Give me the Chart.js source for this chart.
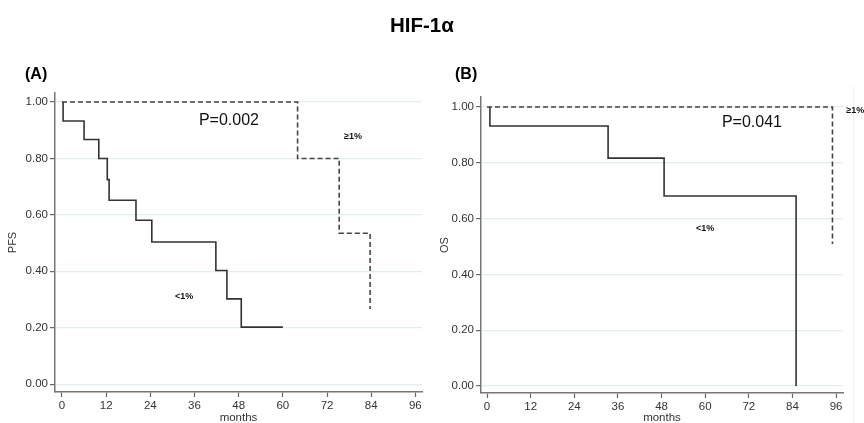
<!DOCTYPE html>
<html><head><meta charset="utf-8">
<script src="https://cdn.jsdelivr.net/npm/chart.js@4.4.1/dist/chart.umd.min.js"></script>
<style>
html,body{margin:0;padding:0;background:#fff;}
#wrap{position:relative;width:864px;height:423px;overflow:hidden;font-family:"Liberation Sans",Arial,sans-serif;}
.lbl{position:absolute;font-weight:bold;color:#000;white-space:nowrap;}
canvas{position:absolute;top:0;}
#frame{position:absolute;left:853px;top:86px;width:0;height:337px;border-left:1px solid #eef3f6;}
</style></head>
<body>
<div id="wrap">
  <div id="frame"></div>
  <canvas id="cA" width="432" height="423" style="left:0px"></canvas>
  <canvas id="cB" width="432" height="423" style="left:432px"></canvas>
  <div class="lbl" style="left:390px;top:13px;font-size:20.5px;">HIF-1α</div>
  <div class="lbl" style="left:25px;top:65px;font-size:16px;">(A)</div>
  <div class="lbl" style="left:455px;top:65px;font-size:16px;">(B)</div>
</div>
<script>
// ---- data ----
const monthTicks = [0, 12, 24, 36, 48, 60, 72, 84, 96];
const survTicks = [0, 0.2, 0.4, 0.6, 0.8, 1.0];

// Panel A: PFS
const pfsLowMonths  = [0.3, 0.3, 6, 10, 12.3, 12.8, 20.1, 24.4, 41.8, 44.8, 48.7, 60];
const pfsLowSurv    = [1.0, 0.933, 0.867, 0.80, 0.725, 0.652, 0.581, 0.504, 0.403, 0.302, 0.202, 0.202];
const pfsHighMonths = [0, 64, 75.3, 83.7];
const pfsHighSurv   = [1.0, 0.80, 0.535, 0.266];

// Panel B: OS
const osLowMonths  = [0.8, 0.8, 33.3, 48.7, 85];
const osLowSurv    = [1.0, 0.932, 0.817, 0.681, 0];
const osHighMonths = [0, 95];
const osHighSurv   = [1.0, 0.509];

// annotation texts
const annoA = [
  {text: 'P=0.002', x: 37.2, y: 0.933, size: 16, bold: false},
  {text: '≥1%',     x: 76.6, y: 0.879, size: 9,  bold: true},
  {text: '<1%',     x: 30.7, y: 0.309, size: 9,  bold: true}
];
const annoB = [
  {text: 'P=0.041', x: 64.6, y: 0.943, size: 16, bold: false},
  {text: '<1%',     x: 57.5, y: 0.563, size: 9,  bold: true},
  {text: '≥1%',     x: 98.8, y: 0.989, size: 9,  bold: true}
];

const FONT = '"Liberation Sans", Arial, sans-serif';

function pts(xs, ys){ return xs.map((x,i)=>({x:x, y:ys[i]})); }

const annoPlugin = {
  id: 'anno',
  afterDatasetsDraw(chart, args, opts){
    const ctx = chart.ctx;
    const xs = chart.scales.x, ys = chart.scales.y;
    ctx.save();
    ctx.fillStyle = '#111';
    ctx.textAlign = 'left';
    ctx.textBaseline = 'middle';
    (opts.items || []).forEach(a => {
      ctx.font = (a.bold ? 'bold ' : '') + a.size + 'px ' + FONT;
      ctx.fillText(a.text, xs.getPixelForValue(a.x), ys.getPixelForValue(a.y));
    });
    ctx.restore();
  }
};

function makeChart(id, cfg){
  return new Chart(document.getElementById(id), {
    type: 'line',
    data: {
      datasets: [
        {data: pts(cfg.lowX, cfg.lowY), borderColor: '#333', borderWidth: 1.6, stepped: 'before', pointRadius: 0, fill: false},
        {data: pts(cfg.highX, cfg.highY), borderColor: '#444', borderWidth: 1.6, borderDash: [5, 3], stepped: 'before', pointRadius: 0, fill: false}
      ]
    },
    plugins: [annoPlugin],
    options: {
      responsive: false,
      animation: false,
      layout: {padding: cfg.pad},
      plugins: {legend: {display: false}, tooltip: {enabled: false}, anno: {items: cfg.anno}},
      scales: {
        x: {
          type: 'linear', min: cfg.xmin, max: cfg.xmax,
          afterBuildTicks: s => { s.ticks = monthTicks.map(v => ({value: v})); },
          afterFit: s => { s.height = cfg.xh; },
          ticks: {color: '#333', font: {family: FONT, size: 11.5}, padding: 2, maxRotation: 0},
          grid: {drawOnChartArea: false, drawTicks: true, tickLength: 5, tickColor: '#666', tickWidth: 1.2},
          border: {color: '#777', width: 1.5},
          title: {display: true, text: 'months', color: '#333', font: {family: FONT, size: 11.5}, padding: {top: 0, bottom: -2}}
        },
        y: {
          type: 'linear', min: cfg.ymin, max: cfg.ymax,
          afterBuildTicks: s => { s.ticks = survTicks.map(v => ({value: v})); },
          afterFit: s => { s.width = cfg.yw; },
          ticks: {color: '#333', font: {family: FONT, size: 11.5}, padding: 2, callback: v => Number(v).toFixed(2)},
          grid: {color: '#e3edf2', lineWidth: 1.2, drawTicks: true, tickLength: 5, tickColor: '#666', tickWidth: 1.2},
          border: {color: '#777', width: 1.5},
          title: {display: true, text: cfg.ytitle, color: '#333', font: {family: FONT, size: 11}, padding: {top: 6, bottom: 0}}
        }
      }
    }
  });
}

makeChart('cA', {
  lowX: pfsLowMonths, lowY: pfsLowSurv, highX: pfsHighMonths, highY: pfsHighSurv,
  anno: annoA, ytitle: 'PFS',
  pad: {left: 0, right: 10, top: 93, bottom: 0},
  xmin: -1.9, xmax: 97.8, ymin: -0.028, ymax: 1.032, yw: 55, xh: 31
});
makeChart('cB', {
  lowX: osLowMonths, lowY: osLowSurv, highX: osHighMonths, highY: osHighSurv,
  anno: annoB, ytitle: 'OS',
  pad: {left: 0, right: 21, top: 97, bottom: 0},
  xmin: -1.65, xmax: 97.9, ymin: -0.025, ymax: 1.036, yw: 49, xh: 30
});
</script>
</body></html>
